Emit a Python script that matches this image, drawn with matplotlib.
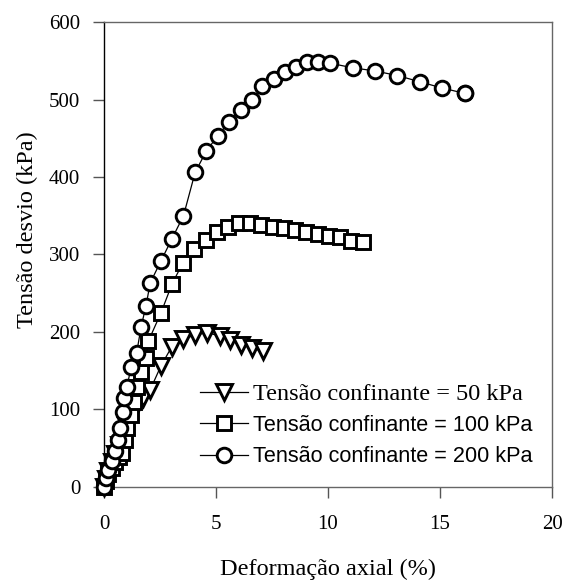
import matplotlib
matplotlib.use("Agg")
import matplotlib.pyplot as plt

# 50 kPa
x50 = [0, 0.1, 0.2, 0.35, 0.5, 0.65, 0.8, 1.0, 1.2, 1.46, 1.76, 2.06, 2.54, 3.03, 3.55, 4.07, 4.59, 5.16, 5.64, 6.13, 6.61, 7.08]
y50 = [0, 10, 20, 32, 43, 54, 65, 78, 92, 106, 115, 125, 156, 181, 191, 196, 199, 195, 189, 183, 179, 175]
# 100 kPa
x100 = [0, 0.1, 0.2, 0.35, 0.5, 0.65, 0.79, 0.94, 1.04, 1.2, 1.33, 1.49, 1.66, 1.88, 1.98, 2.55, 3.04, 3.52, 4.04, 4.55,
        5.04, 5.52, 6.01, 6.52, 7.03, 7.53, 8.03, 8.54, 9.03, 9.55, 10.04, 10.53, 11.02, 11.56]
y100 = [0, 8, 16, 25, 32, 38, 44, 61, 76, 93, 110, 129, 148, 167, 188, 225, 262, 289, 307, 319,
        329, 336, 341, 340, 338, 336, 334, 332, 329, 327, 324, 322, 318, 316]
# 200 kPa
x200 = [0, 0.08, 0.19, 0.34, 0.49, 0.61, 0.72, 0.86, 0.91, 1.03, 1.21, 1.46, 1.66, 1.88, 2.06, 2.55, 3.03, 3.55, 4.07,
        4.56, 5.07, 5.58, 6.10, 6.59, 7.07, 7.57, 8.09, 8.59, 9.08, 9.57, 10.08, 11.10, 12.08, 13.10, 14.09, 15.08, 16.1, 16.1]
y200 = [0, 12, 22, 33, 46, 61, 76, 97, 115, 129, 155, 173, 207, 234, 263, 292, 320, 350, 406,
        433, 453, 471, 487, 499, 517, 526, 535, 542, 549, 549, 547, 541, 537, 531, 523, 515, 508, 508]

labels = ["Tensão confinante = 50 kPa", "Tensão confinante = 100 kPa", "Tensão confinante = 200 kPa"]
xticks = [0, 5, 10, 15, 20]
yticks = [0, 100, 200, 300, 400, 500, 600]

serif = ["Liberation Serif", "DejaVu Serif"]
sans = ["Liberation Sans", "DejaVu Sans"]

fig = plt.figure(figsize=(5.65, 5.81), dpi=100)
ax = fig.add_axes([0.184, 0.162, 0.793, 0.800])

common = dict(color="black", lw=0.9, mfc="white", mec="black", mew=2.1, clip_on=False, zorder=3)
l1, = ax.plot(x50, y50, marker="v", ms=11.5, **common)
l2, = ax.plot(x100, y100, marker="s", ms=9.5, **common)
l3, = ax.plot(x200, y200, marker="o", ms=10.5, **common)

ax.set_xlim(0, 20)
ax.set_ylim(0, 600)
ax.set_xticks(xticks)
ax.set_yticks(yticks)
ax.set_xticklabels([str(v) for v in xticks], family=serif, fontsize=15)
ax.set_yticklabels([str(v) for v in yticks], family=serif, fontsize=15)
ax.tick_params(axis="x", direction="out", length=8, width=1, color="#555555", pad=12)
ax.tick_params(axis="y", direction="out", length=8, width=1, color="#555555", pad=9)
for s in ["top", "right", "bottom"]:
    ax.spines[s].set_color("#666666")
ax.spines["left"].set_color("black")
for s in ax.spines.values():
    s.set_linewidth(1.0)

ax.set_xlabel("Deformação axial (%)", family=serif, fontsize=17.5, labelpad=18)
ax.set_ylabel("Tensão desvio (kPa)", family=serif, fontsize=17.5)
ax.yaxis.set_label_coords(-0.148, 0.553)

leg = ax.legend([l1, l2, l3], labels, loc="lower right", bbox_to_anchor=(1.0, 0.0),
                frameon=False, handlelength=2.2, handletextpad=0.25, labelspacing=0.48,
                fontsize=15.6, borderaxespad=0.5)
texts = leg.get_texts()
texts[0].set_family(serif)
texts[0].set_fontsize(17.5)
texts[1].set_family(sans)
texts[2].set_family(sans)

fig.savefig("out.png", dpi=100)
